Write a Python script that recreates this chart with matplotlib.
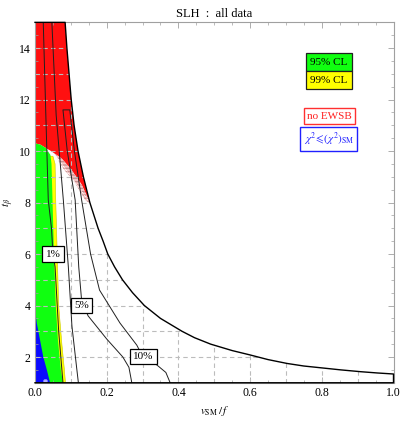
import matplotlib.pyplot as plt
from matplotlib.patches import Polygon, Rectangle
from matplotlib.ticker import MultipleLocator, FixedLocator, FormatStrFormatter

plt.rcParams['font.family'] = ['Liberation Serif', 'DejaVu Serif']
plt.rcParams['mathtext.fontset'] = 'stix'

# outer edge of the allowed region
bnd_t = [15, 14, 13, 12, 11, 10, 9, 8, 7, 6.5, 6, 5.5, 5, 4.5, 4, 3.5, 3.0, 2.75, 2.5,
         2.25, 2.08, 1.9, 1.75, 1.65, 1.57, 1.5, 1.43, 1.38, 1.34]
bnd_x = [0.084, 0.089, 0.095, 0.101, 0.109, 0.12, 0.135, 0.153, 0.176, 0.19, 0.203, 0.222,
         0.244, 0.272, 0.305, 0.35, 0.41, 0.445, 0.49, 0.55, 0.6, 0.65, 0.703, 0.75, 0.805,
         0.853, 0.908, 0.955, 1.0]

# no EWSB region: lower edge (right to left)
red_lo_x = [0.153, 0.13, 0.10, 0.075, 0.055, 0.045, 0.03, 0.015, 0.0]
red_lo_t = [8.0, 8.7, 9.3, 9.7, 9.9, 10.0, 10.12, 10.25, 10.3]
# fuzzy band under the red edge
fuzz_x = [0.06, 0.08, 0.11, 0.14, 0.155]
fuzz_t = [9.75, 9.3, 8.8, 8.1, 7.95]

# 95% CL right edge
green_t = [9.85, 9.5, 8, 6, 4, 2.66, 1.5, 1.0]
green_x = [0.043, 0.046, 0.049, 0.053, 0.058, 0.064, 0.072, 0.078]
# 99% CL right edge
yel_t = [9.8, 9.5, 8, 6, 4, 2.5, 1.5, 1.0]
yel_x = [0.05, 0.056, 0.058, 0.062, 0.066, 0.075, 0.082, 0.085]
# chi2 <= chi2_SM right edge
blue_t = [3.9, 3.31, 2.66, 2.01, 1.5, 1.0]
blue_x = [0.0, 0.005, 0.014, 0.023, 0.033, 0.042]
best_x, best_t = 0.028, 1.08

# fine-tuning contours
c1_x = [0.023, 0.03, 0.037, 0.046, 0.05, 0.056, 0.062, 0.066, 0.072, 0.078]
c1_t = [15, 11.5, 8.1, 7, 6, 5.5, 4.0, 3.0, 2.0, 1.0]
c2_x = [0.047, 0.059, 0.079, 0.093, 0.103, 0.116, 0.121]
c2_t = [15, 11.4, 8.1, 5.5, 3.2, 1.6, 1.0]
c3_x = [0.377, 0.365, 0.34, 0.301, 0.284, 0.237, 0.18, 0.155, 0.13, 0.11, 0.097,
        0.078, 0.09, 0.112, 0.122, 0.13, 0.148, 0.2, 0.245, 0.262, 0.27]
c3_t = [1.0, 1.4, 1.69, 2.0, 2.46, 3.32, 4.6, 6, 8.1, 10, 11.6,
        11.6, 10, 8.1, 5.5, 4.2, 3.6, 2.7, 2.0, 1.6, 1.0]

labels = ['1%', '5%', '10%']
label_x = [0.05, 0.13, 0.303]
label_t = [6.0, 4.0, 2.02]

fig = plt.figure(figsize=(4.01, 4.22), dpi=100)
ax = fig.add_axes([0.0873, 0.093, 0.894, 0.854])

dom = [(0, 15)] + list(zip(bnd_x, bnd_t)) + [(1.0, 1.0), (0, 1.0)]
dom_patch = Polygon(dom, closed=True, fc='none', ec='none')
ax.add_patch(dom_patch)

# red region
top = [(x, t) for x, t in zip(bnd_x, bnd_t) if t >= 8]
red = [(0, 15)] + top + list(zip(red_lo_x, red_lo_t))
ax.add_patch(Polygon(red, closed=True, fc='#ff1010', ec='none', zorder=1))
fuzz = list(zip(red_lo_x[:5], red_lo_t[:5]))[::-1] + list(zip(fuzz_x, fuzz_t))
ax.add_patch(Polygon(fuzz, closed=True, fc='#f6c8c8', ec='#c89090', hatch='-----',
                     lw=0, zorder=1))

# yellow then green
yel = [(0.03, 9.8)] + list(zip(yel_x, yel_t)) + [(0.03, 1.0)]
ax.add_patch(Polygon(yel, closed=True, fc='#ffff00', ec='#c8c800', lw=0.4, zorder=1))
green = [(0, 1.0), (0, 10.3), (0.015, 10.25), (0.03, 10.12)] + list(zip(green_x, green_t))
ax.add_patch(Polygon(green, closed=True, fc='#10ff10', ec='none', zorder=1))
blue = [(0, 1.0)] + list(zip(blue_x, blue_t))
ax.add_patch(Polygon(blue, closed=True, fc='#0a0aff', ec='none', zorder=1))
ax.plot(best_x, best_t, 'o', ms=3, mfc='#b0b0ff', mec='#8080ff', mew=0.5, zorder=2)

# dashed grid, only inside the allowed region
grid_x = [0.1, 0.2, 0.3, 0.4, 0.5, 0.6, 0.7, 0.8, 0.9]
grid_t = [2, 3, 4, 5, 6, 7, 8, 9, 10, 11, 12, 13, 14]
vl = ax.vlines(grid_x, 1, 15, colors='#bcbcbc', linestyles=(0, (4, 3)), lw=0.8, zorder=2)
hl = ax.hlines(grid_t, 0, 1, colors='#bcbcbc', linestyles=(0, (4, 3)), lw=0.8, zorder=2)
vl.set_clip_path(dom_patch)
hl.set_clip_path(dom_patch)

# contours
for cx, ct in [(c1_x, c1_t), (c2_x, c2_t), (c3_x, c3_t)]:
    ax.plot(cx, ct, color='#202020', lw=0.7, zorder=3)

# domain outline
ax.plot([0] + bnd_x + [1.0, 1.0, 0.0], [15] + bnd_t + [1.0, 1.0, 1.0], color='black', lw=1.0,
        zorder=4, clip_on=False)

for lab, lx, lt in zip(labels, label_x, label_t):
    ax.text(lx, lt, lab, ha='center', va='center', fontsize=8, zorder=5,
            bbox=dict(boxstyle='square,pad=0.3', fc='white', ec='black', lw=0.9))

# legend boxes
ax.add_patch(Rectangle((0.756, 0.865), 0.128, 0.05, transform=ax.transAxes,
                       fc='#10ff10', ec='#202020', lw=0.9, zorder=5))
ax.add_patch(Rectangle((0.756, 0.815), 0.128, 0.05, transform=ax.transAxes,
                       fc='#ffff00', ec='#202020', lw=0.9, zorder=5))
ax.text(0.82, 0.89, '95% CL', transform=ax.transAxes, ha='center', va='center',
        fontsize=8, zorder=6)
ax.text(0.82, 0.84, '99% CL', transform=ax.transAxes, ha='center', va='center',
        fontsize=8, zorder=6)
ax.text(0.821, 0.740, 'no EWSB', transform=ax.transAxes, ha='center', va='center',
        fontsize=8, color='#ff2020', zorder=6,
        bbox=dict(boxstyle='square,pad=0.3', fc='white', ec='#ff3030', lw=1.0))
ax.text(0.82, 0.676, r'$\chi^2\!\leqslant\!(\chi^2)_{\rm SM}$', transform=ax.transAxes,
        ha='center', va='center', fontsize=8, color='#2020ff', zorder=6,
        bbox=dict(boxstyle='square,pad=0.3', fc='white', ec='#2020ff', lw=1.0))

ax.set_xlim(0, 1)
ax.set_ylim(1, 15)

# frame
for s in ax.spines.values():
    s.set_color('#a0a0a0')
    s.set_linewidth(0.8)
ax.xaxis.set_major_locator(MultipleLocator(0.2))
ax.xaxis.set_minor_locator(MultipleLocator(0.05))
ax.xaxis.set_major_formatter(FormatStrFormatter('%.1f'))
ax.yaxis.set_major_locator(FixedLocator([2, 4, 6, 8, 10, 12, 14]))
ax.yaxis.set_minor_locator(MultipleLocator(0.5))
ax.tick_params(which='both', direction='in', top=True, right=True, color='#a0a0a0',
               labelsize=8.5, pad=3)
ax.tick_params(which='major', length=4, width=0.6)
ax.tick_params(which='minor', length=2, width=0.5)

ax.set_xlabel(r'$v_{\rm SM}\,/\,f$', fontsize=8, labelpad=4)
ax.set_ylabel(r'$t_\beta$', fontsize=8, labelpad=2)
ax.set_title('SLH  :  all data', fontsize=9, pad=4)

fig.savefig('out.png', dpi=100)
